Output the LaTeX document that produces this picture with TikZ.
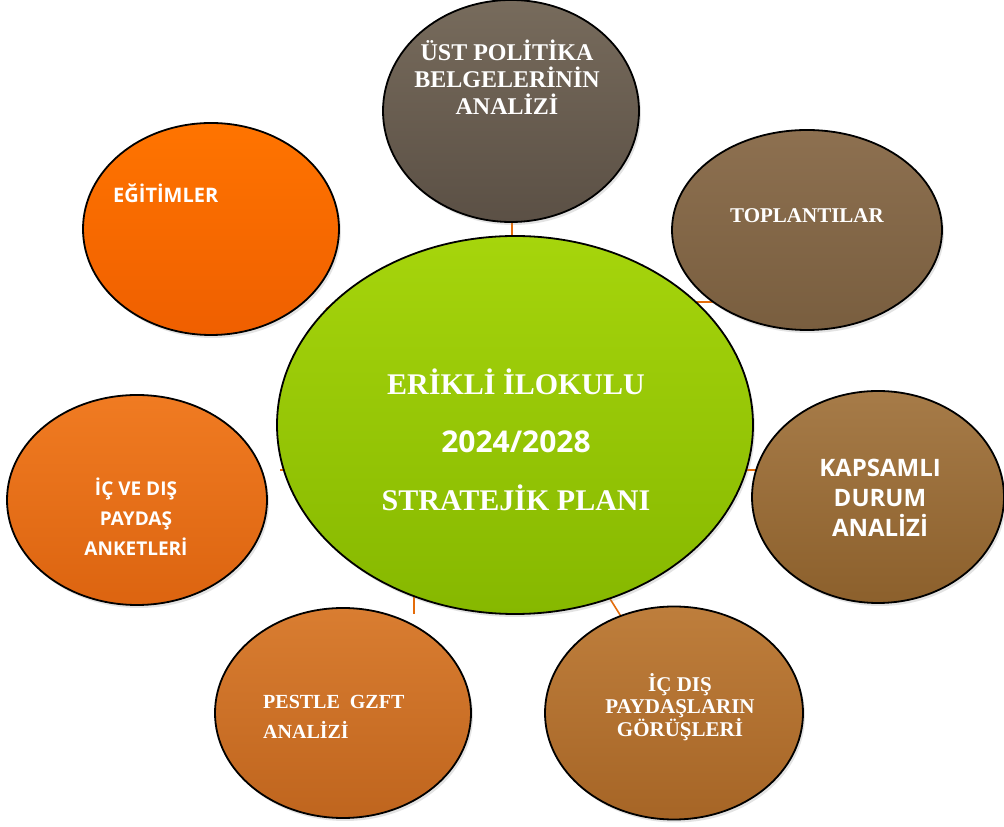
\documentclass[tikz,border=0pt]{standalone}
\usepackage{fontspec}
\setmainfont{Liberation Serif}
\newfontfamily\sansf{Open Sans}
\usetikzlibrary{shapes.geometric,shadows}
\definecolor{connc}{HTML}{E46C0A}
\definecolor{ustT}{HTML}{776B5C}\definecolor{ustB}{HTML}{5B5045}
\definecolor{topT}{HTML}{8D7050}\definecolor{topB}{HTML}{795E3F}
\definecolor{kapT}{HTML}{A67B48}\definecolor{kapB}{HTML}{8C602C}
\definecolor{gorT}{HTML}{BE7E3C}\definecolor{gorB}{HTML}{A66526}
\definecolor{pesT}{HTML}{D97D31}\definecolor{pesB}{HTML}{BF651E}
\definecolor{ankT}{HTML}{F07B22}\definecolor{ankB}{HTML}{DC6410}
\definecolor{egtT}{HTML}{FF7400}\definecolor{egtB}{HTML}{EF5F00}
\definecolor{cenT}{HTML}{A6D50C}\definecolor{cenB}{HTML}{86B800}
\begin{document}
\begin{tikzpicture}[x=1pt,y=1pt,
  bub/.style={ellipse, draw=black, line width=1.8pt, inner sep=0pt,
    drop shadow={opacity=0.22,shadow xshift=2pt,shadow yshift=-3pt}},
  conn/.style={draw=connc, line width=1.6pt},
  lbl/.style={text=white, inner sep=0pt, align=center},
]
\useasboundingbox (0,0) rectangle (1004,827);
\fill[white] (0,0) rectangle (1004,827);
% connector end points
\coordinate (u1) at (512,607); \coordinate (u2) at (512,588);
\coordinate (t1) at (690,525); \coordinate (t2) at (720,525);
\coordinate (k1) at (744,357); \coordinate (k2) at (757,357);
\coordinate (g1) at (607,233); \coordinate (g2) at (622,209);
\coordinate (p1) at (414,234); \coordinate (p2) at (414,213);
\coordinate (a1) at (280,357); \coordinate (a2) at (286,357);
\coordinate (e1) at (326,518); \coordinate (e2) at (338,526);
\draw[conn] (u1) -- (u2);
\draw[conn] (t1) -- (t2);
\draw[conn] (k1) -- (k2);
\draw[conn] (g1) -- (g2);
\draw[conn] (p1) -- (p2);
\draw[conn] (a1) -- (a2);
\draw[conn] (e1) -- (e2);
% ellipses
\node[bub, minimum width=256pt, minimum height=222pt, top color=ustT, bottom color=ustB] (ust) at (511,716) {};
\node[bub, minimum width=270pt, minimum height=200pt, top color=topT, bottom color=topB] (top) at (807,597) {};
\node[bub, minimum width=256pt, minimum height=212pt, top color=egtT, bottom color=egtB] (egt) at (211,598) {};
\node[bub, minimum width=260pt, minimum height=210pt, top color=ankT, bottom color=ankB] (ank) at (137,327) {};
\node[bub, minimum width=252pt, minimum height=212pt, top color=kapT, bottom color=kapB] (kap) at (878,330) {};
\node[bub, minimum width=256pt, minimum height=210pt, top color=pesT, bottom color=pesB] (pes) at (343,114) {};
\node[bub, minimum width=258pt, minimum height=213pt, top color=gorT, bottom color=gorB] (gor) at (674,114) {};
\node[bub, minimum width=476pt, minimum height=378pt, top color=cenT, bottom color=cenB] (cen) at (515,402) {};
% texts
\node[lbl, font=\bfseries\fontsize{24}{27}\selectfont] (ustL) at (507,750) {ÜST POLİTİKA\\BELGELERİNİN\\ANALİZİ};
\node[lbl, font=\bfseries\fontsize{21}{26}\selectfont] (topL) at (807,611) {TOPLANTILAR};
\node[lbl, font=\sansf\bfseries\fontsize{20}{22}\selectfont, anchor=west] (egtL) at (113,634) {EĞİTİMLER};
\node[lbl, font=\sansf\bfseries\fontsize{19}{30}\selectfont] (ankL) at (136,310) {İÇ VE DIŞ\\PAYDAŞ\\ANKETLERİ};
\node[lbl, font=\sansf\bfseries\fontsize{24}{30}\selectfont] (kapL) at (880,329) {KAPSAMLI\\DURUM\\ANALİZİ};
\node[lbl, font=\bfseries\fontsize{20}{30}\selectfont, align=left, anchor=west] (pesL) at (263,110) {PESTLE~~GZFT\\ANALİZİ};
\node[lbl, font=\bfseries\fontsize{21}{22}\selectfont] (gorL) at (680,120) {İÇ DIŞ\\PAYDAŞLARIN\\GÖRÜŞLERİ};
\node[lbl, font=\bfseries\fontsize{30}{58}\selectfont] (cenL) at (516,387) {ERİKLİ İLOKULU\\{\sansf 2024/2028}\\STRATEJİK PLANI};
\end{tikzpicture}
\end{document}
